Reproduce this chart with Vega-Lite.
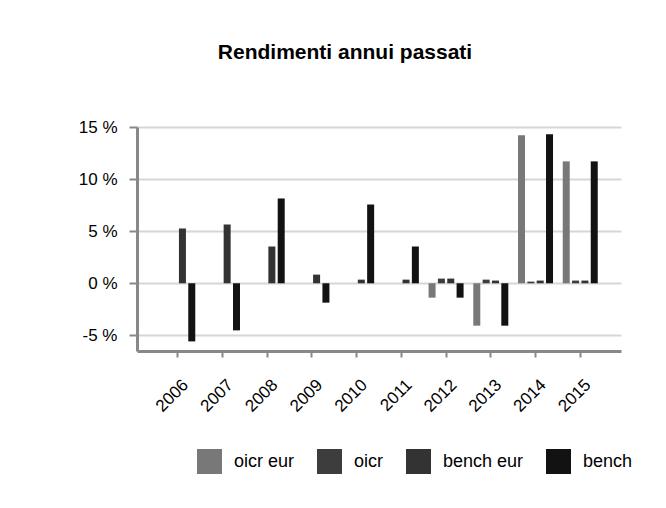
{
  "$schema": "https://vega.github.io/schema/vega-lite/v6.json",
  "width": 484,
  "height": 224,
  "autosize": {"type": "none"},
  "padding": {"left": 137, "top": 127, "right": 45, "bottom": 157},
  "background": "white",
  "title": {
    "text": "Rendimenti annui passati",
    "font": "Liberation Sans",
    "fontSize": 21,
    "fontWeight": "bold",
    "color": "black",
    "anchor": "middle",
    "dx": -34,
    "offset": 55
  },
  "data": {
    "values": [
      {"anno": "2006", "serie": "bench eur", "rendimento": 5.26},
      {"anno": "2006", "serie": "bench", "rendimento": -5.58},
      {"anno": "2007", "serie": "bench eur", "rendimento": 5.64},
      {"anno": "2007", "serie": "bench", "rendimento": -4.52},
      {"anno": "2008", "serie": "bench eur", "rendimento": 3.53},
      {"anno": "2008", "serie": "bench", "rendimento": 8.14},
      {"anno": "2009", "serie": "bench eur", "rendimento": 0.83},
      {"anno": "2009", "serie": "bench", "rendimento": -1.86},
      {"anno": "2010", "serie": "bench eur", "rendimento": 0.35},
      {"anno": "2010", "serie": "bench", "rendimento": 7.56},
      {"anno": "2011", "serie": "bench eur", "rendimento": 0.35},
      {"anno": "2011", "serie": "bench", "rendimento": 3.53},
      {"anno": "2012", "serie": "oicr eur", "rendimento": -1.38},
      {"anno": "2012", "serie": "oicr", "rendimento": 0.45},
      {"anno": "2012", "serie": "bench eur", "rendimento": 0.45},
      {"anno": "2012", "serie": "bench", "rendimento": -1.38},
      {"anno": "2013", "serie": "oicr eur", "rendimento": -4.07},
      {"anno": "2013", "serie": "oicr", "rendimento": 0.35},
      {"anno": "2013", "serie": "bench eur", "rendimento": 0.26},
      {"anno": "2013", "serie": "bench", "rendimento": -4.07},
      {"anno": "2014", "serie": "oicr eur", "rendimento": 14.2},
      {"anno": "2014", "serie": "oicr", "rendimento": 0.16},
      {"anno": "2014", "serie": "bench eur", "rendimento": 0.26},
      {"anno": "2014", "serie": "bench", "rendimento": 14.3},
      {"anno": "2015", "serie": "oicr eur", "rendimento": 11.7},
      {"anno": "2015", "serie": "oicr", "rendimento": 0.26},
      {"anno": "2015", "serie": "bench eur", "rendimento": 0.26},
      {"anno": "2015", "serie": "bench", "rendimento": 11.7}
    ]
  },
  "mark": {"type": "bar"},
  "encoding": {
    "x": {
      "field": "anno",
      "type": "nominal",
      "scale": {"paddingInner": 0.217, "paddingOuter": 0.52},
      "axis": {
        "title": null,
        "grid": false,
        "domainColor": "#888888",
        "domainWidth": 3,
        "tickColor": "#888888",
        "tickWidth": 2,
        "tickSize": 6,
        "labelAngle": -45,
        "labelAlign": "right",
        "labelBaseline": "middle",
        "labelPadding": 25,
        "labelOffset": 8,
        "labelFont": "Liberation Sans",
        "labelFontSize": 17,
        "labelColor": "black"
      }
    },
    "xOffset": {
      "field": "serie",
      "type": "nominal",
      "scale": {"domain": ["oicr eur", "oicr", "bench eur", "bench"], "paddingInner": 0.25, "paddingOuter": 0}
    },
    "y": {
      "field": "rendimento",
      "type": "quantitative",
      "scale": {"domain": [-6.5, 15], "nice": false, "zero": false},
      "axis": {
        "title": null,
        "values": [-5, 0, 5, 10, 15],
        "labelExpr": "datum.value + ' %'",
        "grid": true,
        "gridColor": "#d6d6d6",
        "gridWidth": 2,
        "domainColor": "#888888",
        "domainWidth": 3,
        "tickColor": "#888888",
        "tickWidth": 2,
        "tickSize": 8,
        "labelPadding": 12,
        "labelFont": "Liberation Sans",
        "labelFontSize": 17,
        "labelColor": "black"
      }
    },
    "color": {
      "field": "serie",
      "type": "nominal",
      "scale": {
        "domain": ["oicr eur", "oicr", "bench eur", "bench"],
        "range": ["#787878", "#3d3d3d", "#333333", "#121212"]
      },
      "legend": {
        "title": null,
        "orient": "none",
        "legendX": 60,
        "legendY": 322,
        "direction": "horizontal",
        "symbolType": "square",
        "symbolSize": 625,
        "symbolStrokeWidth": 0,
        "symbolOpacity": 1,
        "labelFont": "Liberation Sans",
        "labelFontSize": 18,
        "labelColor": "black",
        "labelOffset": 12,
        "columnPadding": 22
      }
    }
  },
  "config": {"view": {"stroke": null}}
}
